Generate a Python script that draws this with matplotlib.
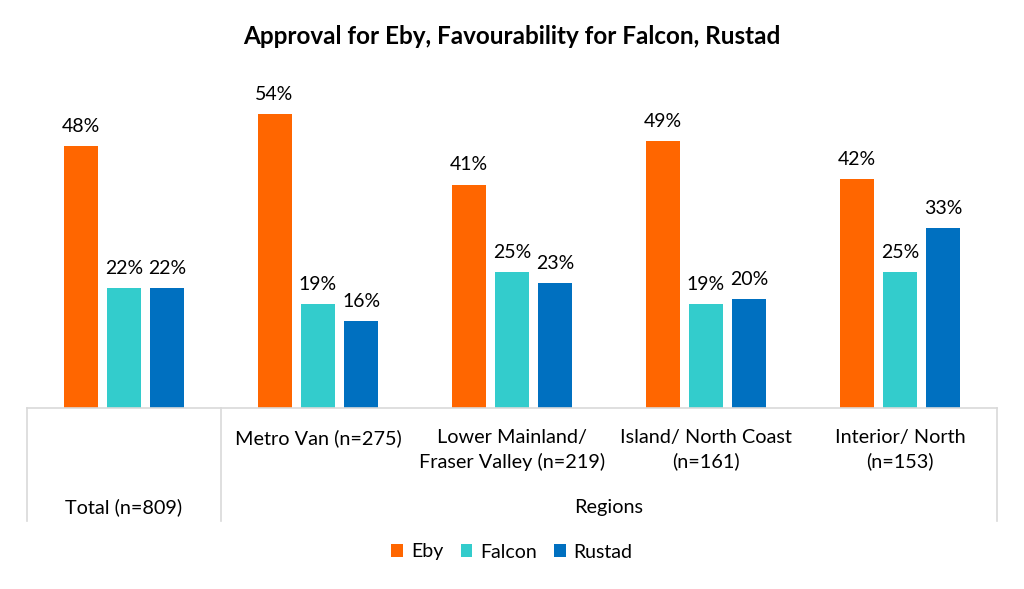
import matplotlib.pyplot as plt
import numpy as np

plt.rcParams['font.family'] = ['Lato', 'DejaVu Sans']

categories = ['Total (n=809)', 'Metro Van (n=275)', 'Lower Mainland/\nFraser Valley (n=219)',
              'Island/ North Coast\n(n=161)', 'Interior/ North\n(n=153)']
series = ['Eby', 'Falcon', 'Rustad']
eby = [48, 54, 41, 49, 42]
falcon = [22, 19, 25, 19, 25]
rustad = [22, 16, 23, 20, 33]
colors = ['#FF6600', '#33CCCC', '#0070C0']

fig = plt.figure(figsize=(10.24, 5.89), dpi=100)
W, H = 1024, 589
ax_bottom_px, ax_top_px = 408, 81
ax = fig.add_axes([27 / W, 1 - ax_bottom_px / H, 970 / W, (ax_bottom_px - ax_top_px) / H])

x = np.arange(len(categories))
width = 0.175
offsets = [-0.224, 0, 0.224]
for vals, name, col, off in zip([eby, falcon, rustad], series, colors, offsets):
    bars = ax.bar(x + off, vals, width, color=col, label=name)
    for b, v in zip(bars, vals):
        ax.annotate(f'{v}%', (b.get_x() + b.get_width() / 2, v), xytext=(0, 8),
                    textcoords='offset points', ha='center', va='bottom', fontsize=14)

ax.set_xlim(-0.5, 4.5)
ax.set_ylim(0, 60)
ax.set_yticks([])
ax.set_xticks([])
for s in ['top', 'right', 'left']:
    ax.spines[s].set_visible(False)
ax.spines['bottom'].set_color('#d9d9d9')
ax.spines['bottom'].set_linewidth(1.2)

# category axis boxes below
ax_h = ax_bottom_px - ax_top_px
y_end = -(521 - ax_bottom_px) / ax_h
trans = ax.get_xaxis_transform()
for xv in [-0.5, 0.5, 4.5]:
    ax.plot([xv, xv], [0, y_end], transform=trans, color='#d9d9d9', lw=1.2, clip_on=False)

for i, c in enumerate(categories[1:], start=1):
    ax.text(i, -(429 - ax_bottom_px) / ax_h, c, transform=trans, ha='center', va='top',
            fontsize=14.3, linespacing=1.45)
ax.text(0, -(507 - ax_bottom_px) / ax_h, categories[0], transform=trans, ha='center',
        va='center', fontsize=14.3)
ax.text(2.5, -(507 - ax_bottom_px) / ax_h, 'Regions', transform=trans, ha='center',
        va='center', fontsize=14.3)

fig.text(0.5, 1 - 37 / H, 'Approval for Eby, Favourability for Falcon, Rustad',
         ha='center', va='center', fontsize=17.5, fontweight='bold')

fig.legend(loc='center', bbox_to_anchor=(0.5, 1 - 552 / H), ncol=3, frameon=False,
           fontsize=14, handlelength=0.6, handleheight=0.6, columnspacing=0.9,
           handletextpad=0.4)

plt.savefig('out.png', dpi=100)
